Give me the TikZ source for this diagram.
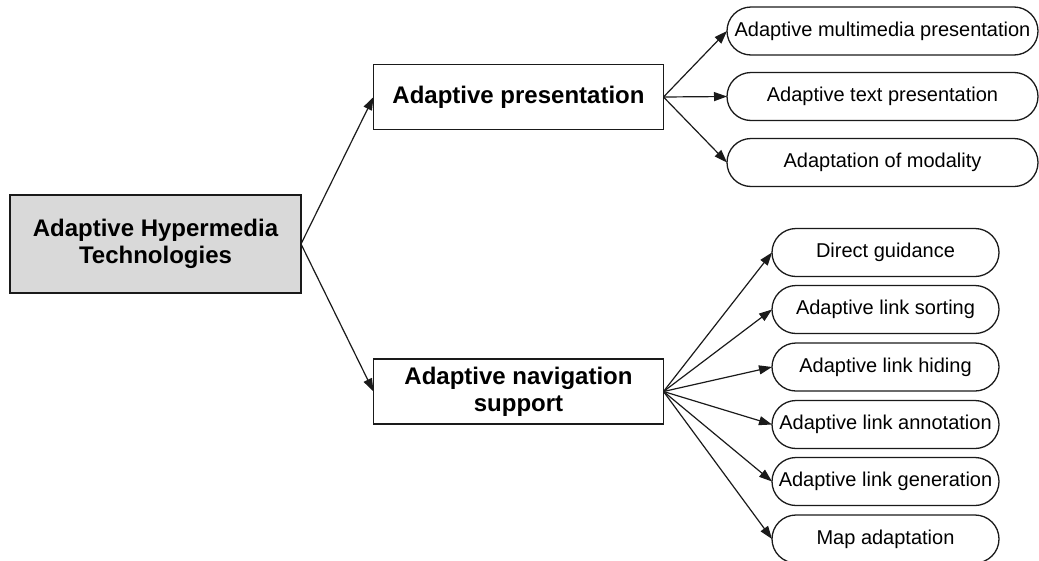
\documentclass[tikz,border=0pt]{standalone}
\usepackage{fontspec}
\setmainfont{Liberation Sans}
\usetikzlibrary{arrows.meta,shapes.misc}
\definecolor{rootgray}{HTML}{D9D9D9}
\definecolor{inkline}{HTML}{1A1A1A}
\begin{document}
\begin{tikzpicture}[x=1pt,y=-1pt,
  every node/.style={inner sep=0pt, outer sep=0pt},
  mainbox/.style={draw=inkline, line width=1.3pt, rectangle, align=center,
    font=\fontsize{24}{27}\selectfont\bfseries},
  leafbox/.style={draw=inkline, line width=1.3pt, rounded rectangle,
    minimum height=48pt, font=\fontsize{20}{24}\selectfont},
  link/.style={draw=inkline, line width=1.2pt, -{Triangle[length=13pt,width=9pt]}}]
\useasboundingbox (0,0) rectangle (1039,560);
\clip (0,0) rectangle (1039,560);

% root and the two main branches
\node[mainbox, fill=rootgray, minimum width=291pt, minimum height=98pt]
  (root) at (155.5,244) {Adaptive Hypermedia\\Technologies};
\node[mainbox, minimum width=290pt, minimum height=65pt]
  (pres) at (518.5,97) {Adaptive presentation};
\node[mainbox, minimum width=290pt, minimum height=65pt]
  (nav) at (518.5,391.5) {Adaptive navigation\\support};

% presentation leaves
\node[leafbox, minimum width=311pt] (p1) at (882.5,31) {Adaptive multimedia presentation};
\node[leafbox, minimum width=311pt] (p2) at (882.5,96.5) {Adaptive text presentation};
\node[leafbox, minimum width=311pt] (p3) at (882.5,162.5) {Adaptation of modality};

% navigation leaves
\node[leafbox, minimum width=227pt] (n1) at (885.5,252.5) {Direct guidance};
\node[leafbox, minimum width=227pt] (n2) at (885.5,309.5) {Adaptive link sorting};
\node[leafbox, minimum width=227pt] (n3) at (885.5,367) {Adaptive link hiding};
\node[leafbox, minimum width=227pt] (n4) at (885.5,424.5) {Adaptive link annotation};
\node[leafbox, minimum width=227pt] (n5) at (885.5,481.5) {Adaptive link generation};
\node[leafbox, minimum width=227pt] (n6) at (885.5,539) {Map adaptation};

% connectors
\draw[link] (root.east) -- (pres.west);
\draw[link] (root.east) -- (nav.west);
\foreach \t in {p1,p2,p3} \draw[link] (pres.east) -- (\t.west);
\foreach \t in {n1,n2,n3,n4,n5,n6} \draw[link] (nav.east) -- (\t.west);
\end{tikzpicture}
\end{document}
